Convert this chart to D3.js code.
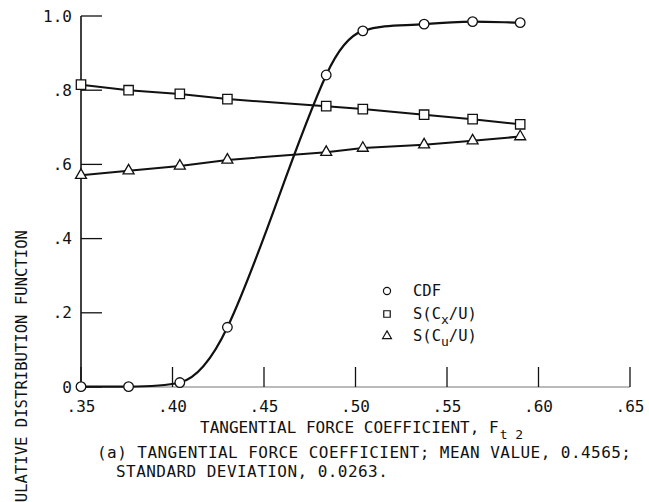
<!DOCTYPE html>
<html>
<head>
<meta charset="utf-8">
<script src="https://cdn.jsdelivr.net/npm/d3@7/dist/d3.min.js"></script>
<style>
  html, body { margin: 0; padding: 0; background: #fff; }
  svg { display: block; }
  text { font-family: "DejaVu Sans Mono", monospace; fill: #111; }
</style>
</head>
<body>
<svg id="chart" width="649" height="502"></svg>
<script>
// Tangential force coefficient sample points
const coeff = [0.350, 0.376, 0.404, 0.430, 0.484, 0.504, 0.5375, 0.564, 0.590];
// Cumulative distribution function
const cdf = [0.001, 0.001, 0.012, 0.161, 0.841, 0.960, 0.978, 0.985, 0.982];
// S(Cx/U)
const sCx = [0.815, 0.800, 0.790, 0.776, 0.757, 0.749, 0.734, 0.722, 0.708];
// S(Cu/U)
const sCu = [0.571, 0.583, 0.596, 0.612, 0.633, 0.644, 0.653, 0.664, 0.675];

const xTicks = [0.35, 0.40, 0.45, 0.50, 0.55, 0.60, 0.65];
const xTickLabels = [".35", ".40", ".45", ".50", ".55", ".60", ".65"];
const yTicks = [0, 0.2, 0.4, 0.6, 0.8, 1.0];
const yTickLabels = ["0", ".2", ".4", ".6", ".8", "1.0"];

// Smooth curve through the points: central-difference tangents,
// clamped so the curve stays monotone between points (no dips or bumps).
function SmoothMonotone(context) { this._context = context; }
SmoothMonotone.prototype = {
  areaStart() { this._line = 0; },
  areaEnd() { this._line = NaN; },
  lineStart() { this._xs = []; this._ys = []; },
  point(px, py) { this._xs.push(+px); this._ys.push(+py); },
  lineEnd() {
    const xs = this._xs, ys = this._ys, n = xs.length, c = this._context;
    if (!n) return;
    c.moveTo(xs[0], ys[0]);
    if (n === 1) return;
    const s = [];
    for (let i = 0; i < n - 1; i++) s.push((ys[i + 1] - ys[i]) / (xs[i + 1] - xs[i]));
    const m = new Array(n);
    m[0] = s[0]; m[n - 1] = s[n - 2];
    for (let i = 1; i < n - 1; i++) {
      if (s[i - 1] * s[i] <= 0) { m[i] = 0; continue; }
      let t = (ys[i + 1] - ys[i - 1]) / (xs[i + 1] - xs[i - 1]);
      const lim = 3 * Math.min(Math.abs(s[i - 1]), Math.abs(s[i]));
      if (Math.abs(t) > lim) t = Math.sign(t) * lim;
      m[i] = t;
    }
    for (let i = 0; i < n - 1; i++) {
      const h = (xs[i + 1] - xs[i]) / 3;
      c.bezierCurveTo(xs[i] + h, ys[i] + m[i] * h,
                      xs[i + 1] - h, ys[i + 1] - m[i + 1] * h,
                      xs[i + 1], ys[i + 1]);
    }
  }
};
const curveSmoothMonotone = ctx => new SmoothMonotone(ctx);

const svg = d3.select("#chart");
const x = d3.scaleLinear().domain([0.35, 0.65]).range([81, 630]);
const y = d3.scaleLinear().domain([0, 1]).range([387, 16]);

// Baseline (faint)
svg.append("line")
  .attr("x1", x(0.35)).attr("x2", x(0.65))
  .attr("y1", y(0)).attr("y2", y(0))
  .attr("stroke", "#777").attr("stroke-width", 1);

// Vertical axis
svg.append("line")
  .attr("x1", x(0.35)).attr("x2", x(0.35))
  .attr("y1", y(1)).attr("y2", y(0))
  .attr("stroke", "#111").attr("stroke-width", 1.6);

// Inward ticks
svg.selectAll(".xt").data(xTicks).enter().append("line")
  .attr("x1", d => x(d)).attr("x2", d => x(d))
  .attr("y1", y(0)).attr("y2", y(0) - 20)
  .attr("stroke", "#111").attr("stroke-width", 1.3);
svg.selectAll(".yt").data(yTicks).enter().append("line")
  .attr("x1", x(0.35)).attr("x2", x(0.35) + 21)
  .attr("y1", d => y(d)).attr("y2", d => y(d))
  .attr("stroke", "#111").attr("stroke-width", 1.3);

// Tick labels
svg.selectAll(".xl").data(xTicks).enter().append("text")
  .attr("x", d => x(d)).attr("y", y(0) + 25)
  .attr("text-anchor", "middle").style("font-size", "16px")
  .text((d, i) => xTickLabels[i]);
svg.selectAll(".yl").data(yTicks).enter().append("text")
  .attr("x", 72).attr("y", d => y(d) + 5.5)
  .attr("text-anchor", "end").style("font-size", "16px")
  .text((d, i) => yTickLabels[i]);

// Axis titles
const xt = svg.append("text").attr("x", 200).attr("y", 433).style("font-size", "16px");
xt.append("tspan").text("TANGENTIAL FORCE COEFFICIENT, F");
xt.append("tspan").attr("dy", 6).attr("dx", 1).style("font-size", "13px").text("t 2");

svg.append("text")
  .attr("transform", "translate(27,230) rotate(-90)")
  .attr("text-anchor", "end").style("font-size", "15.6px")
  .text("CUMULATIVE DISTRIBUTION FUNCTION");

// Caption
svg.append("text").attr("x", 97).attr("y", 458)
  .style("font-size", "16px").style("letter-spacing", "0.45px")
  .text("(a) TANGENTIAL FORCE COEFFICIENT; MEAN VALUE, 0.4565;");
svg.append("text").attr("x", 116).attr("y", 477)
  .style("font-size", "16px").style("letter-spacing", "0.45px")
  .text("STANDARD DEVIATION, 0.0263.");

// Series lines
const pts = v => coeff.map((c, i) => [x(c), y(v[i])]);
svg.append("path").attr("d", d3.line().curve(curveSmoothMonotone)(pts(cdf)))
  .attr("fill", "none").attr("stroke", "#111").attr("stroke-width", 2.2);
svg.append("path").attr("d", d3.line()(pts(sCx)))
  .attr("fill", "none").attr("stroke", "#111").attr("stroke-width", 2);
svg.append("path").attr("d", d3.line()(pts(sCu)))
  .attr("fill", "none").attr("stroke", "#111").attr("stroke-width", 2);

// Markers
const sym = (type, size) => d3.symbol().type(type).size(size)();
function markers(v, type, size) {
  svg.append("g").selectAll("path").data(pts(v)).enter().append("path")
    .attr("transform", d => `translate(${d[0]},${d[1]})`)
    .attr("d", sym(type, size))
    .attr("fill", "#fff").attr("stroke", "#111").attr("stroke-width", 1.3);
}
markers(cdf, d3.symbolCircle, 72);
markers(sCx, d3.symbolSquare, 88);
markers(sCu, d3.symbolTriangle, 52);

// Legend
const legend = [
  { type: d3.symbolCircle, size: 40, y: 291, main: "CDF", sub: null, tail: "" },
  { type: d3.symbolSquare, size: 42, y: 314, main: "S(C", sub: "x", tail: "/U)" },
  { type: d3.symbolTriangle, size: 34, y: 336, main: "S(C", sub: "u", tail: "/U)" }
];
legend.forEach(l => {
  svg.append("path").attr("transform", `translate(387,${l.y})`)
    .attr("d", sym(l.type, l.size))
    .attr("fill", "#fff").attr("stroke", "#111").attr("stroke-width", 1.2);
  const t = svg.append("text").attr("x", 413).attr("y", l.y + 5).style("font-size", "15.5px");
  t.append("tspan").text(l.main);
  if (l.sub) {
    t.append("tspan").attr("dy", 5).style("font-size", "13px").text(l.sub);
    t.append("tspan").attr("dy", -5).text(l.tail);
  }
});
</script>
</body>
</html>
